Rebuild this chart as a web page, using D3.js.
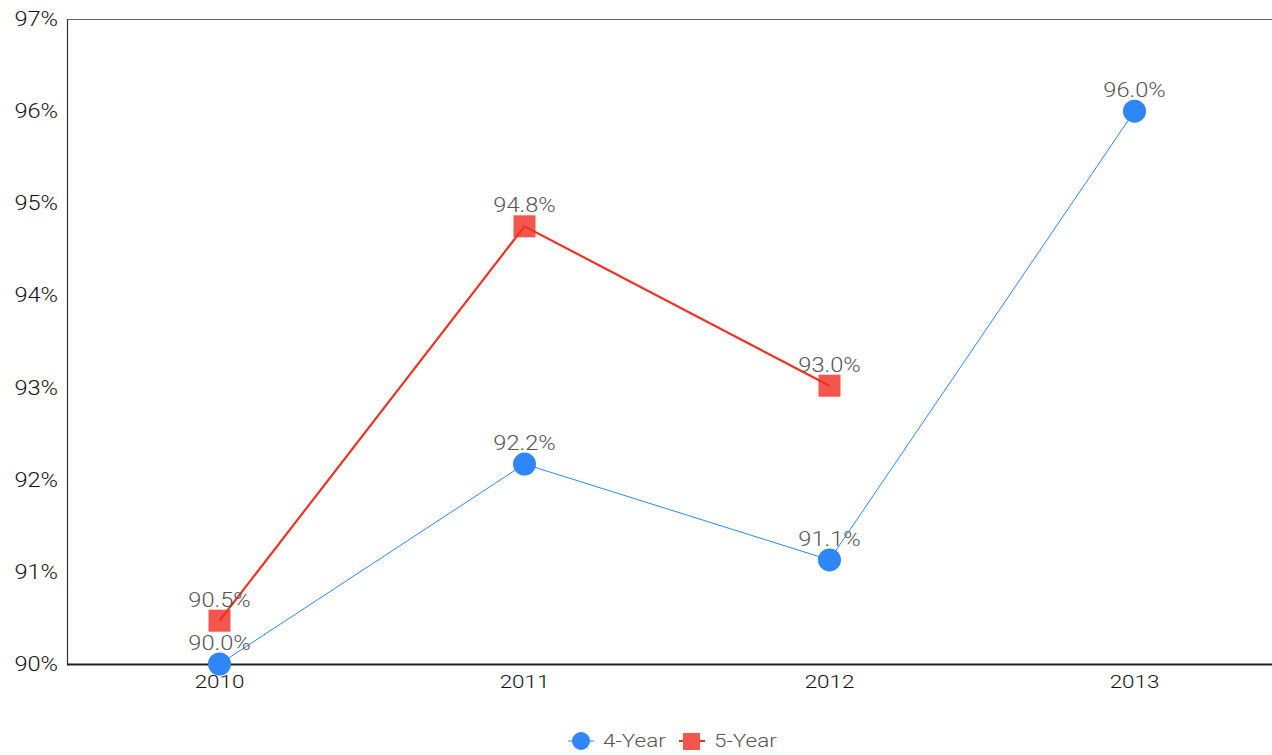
<!DOCTYPE html>
<html><head><meta charset="utf-8">
<script src="https://cdn.jsdelivr.net/npm/d3@7"></script>
<style>body{margin:0;background:#fff;font-family:Roboto,"Open Sans",sans-serif;}</style>
</head><body><svg id="c" width="1272" height="755"></svg>
<script>
const years = ["2010","2011","2012","2013"];
const fourYear = [90.0, 92.17, 91.13, 96.0];
const fiveYear = [90.47, 94.75, 93.02, null];
const fourLabels = ["90.0%","92.2%","91.1%","96.0%"];
const fiveLabels = ["90.5%","94.8%","93.0%",null];
const yTicks = [90,91,92,93,94,95,96,97];

const SX = 1.18;
const svg = d3.select("#c");
const L=67, T=19, B=664, R=1287;
const x = d3.scalePoint().domain(years).range([L,R]).padding(0.5);
const y = d3.scaleLinear().domain([90,97]).range([B,T]);

function sText(g, tx, ty, str, anchor, size, fill){
  return g.append("text").attr("transform",`translate(${tx},${ty}) scale(${SX},1)`)
    .attr("text-anchor",anchor).attr("font-size",size).attr("fill",fill)
    .attr("font-family","Roboto,sans-serif").attr("font-weight",300).text(str);
}

// frame
svg.append("line").attr("x1",L).attr("x2",1272).attr("y1",T+0.5).attr("y2",T+0.5).attr("stroke","#666").attr("stroke-width",1.2);
svg.append("line").attr("x1",L+0.5).attr("x2",L+0.5).attr("y1",T).attr("y2",B).attr("stroke","#333").attr("stroke-width",1.2);

const yAx = svg.append("g");
yTicks.forEach(t=> sText(yAx, 58, y(t)+7, t+"%", "end", 20, "#111"));

const xAx = svg.append("g");
xAx.append("line").attr("x1",L).attr("x2",1272).attr("y1",B+0.5).attr("y2",B+0.5).attr("stroke","#222").attr("stroke-width",2);
years.forEach(yr=> sText(xAx, x(yr), B+24, yr, "middle", 19, "#111"));

const blue="#2f86f6", redM="#f3564c", redL="#ee3325";

const d4 = years.map((yr,i)=>({yr,v:fourYear[i],l:fourLabels[i]}));
const d5 = years.map((yr,i)=>({yr,v:fiveYear[i],l:fiveLabels[i]})).filter(d=>d.v!=null);

svg.selectAll(".m4").data(d4).enter().append("circle")
  .attr("cx",d=>x(d.yr)).attr("cy",d=>y(d.v)).attr("r",11.5).attr("fill",blue);
svg.selectAll(".m5").data(d5).enter().append("rect")
  .attr("x",d=>x(d.yr)-11).attr("y",d=>y(d.v)-11).attr("width",22).attr("height",22).attr("fill",redM);

const line = d3.line().x(d=>x(d.yr)).y(d=>y(d.v));
svg.append("path").datum(d4).attr("d",line).attr("fill","none").attr("stroke",blue).attr("stroke-width",1);
svg.append("path").datum(d5).attr("d",line).attr("fill","none").attr("stroke",redL).attr("stroke-width",2.2);

const lab = svg.append("g");
d4.forEach(d=> sText(lab, x(d.yr), y(d.v)-14, d.l, "middle", 20, "#555"));
d5.forEach(d=> sText(lab, x(d.yr), y(d.v)-14, d.l, "middle", 20, "#555"));

// legend
const lg = svg.append("g");
lg.append("line").attr("x1",568).attr("x2",594).attr("y1",741).attr("y2",741).attr("stroke",blue).attr("stroke-width",1);
lg.append("circle").attr("cx",581).attr("cy",741).attr("r",9).attr("fill",blue);
sText(lg, 603, 747, "4-Year", "start", 19, "#555");
lg.append("line").attr("x1",679).attr("x2",705).attr("y1",741).attr("y2",741).attr("stroke",redL).attr("stroke-width",2);
lg.append("rect").attr("x",683).attr("y",733).attr("width",17).attr("height",17).attr("fill",redM);
sText(lg, 714, 747, "5-Year", "start", 19, "#555");
</script></body></html>
